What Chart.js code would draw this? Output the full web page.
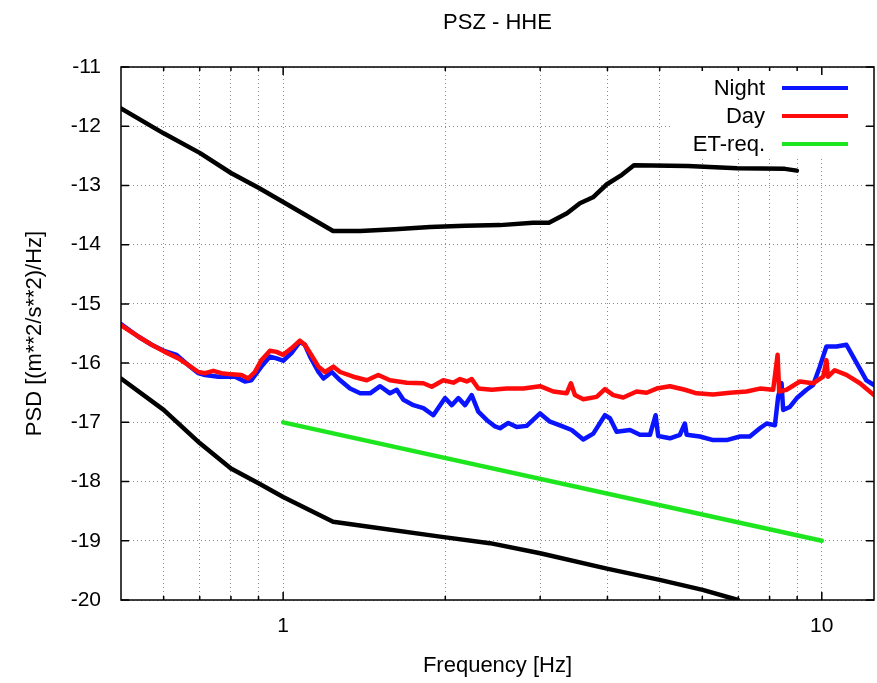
<!DOCTYPE html>
<html>
<head>
<meta charset="utf-8">
<title>PSZ - HHE</title>
<script src="https://cdn.jsdelivr.net/npm/chart.js@4.4.1/dist/chart.umd.min.js"></script>
<style>
  html, body { margin: 0; padding: 0; background: #fff; }
  #wrap { width: 877px; height: 683px; }
</style>
</head>
<body>
<div id="wrap"><canvas id="psd"></canvas></div>
<script>
const FONT = "'Liberation Sans', Arial, sans-serif";

// frequencies where the grid lines sit, and the ones that get a label
const xGridTicks = [0.6, 0.7, 0.8, 0.9, 1, 2, 3, 4, 5, 6, 7, 8, 9, 10];
const xTickLabels = [1, 10];

// Night (blue)
const nightFreq = [0.5, 0.538, 0.570, 0.603, 0.634, 0.666, 0.696, 0.716, 0.758, 0.814,
  0.849, 0.873, 0.911, 0.945, 0.972, 1.0, 1.036, 1.074, 1.097, 1.122,
  1.163, 1.188, 1.231, 1.276, 1.331, 1.390, 1.450, 1.514, 1.579, 1.625,
  1.672, 1.745, 1.821, 1.900, 1.998, 2.056, 2.115, 2.176, 2.239, 2.303,
  2.387, 2.474, 2.527, 2.618, 2.714, 2.832, 2.999, 3.129, 3.266, 3.433,
  3.607, 3.765, 3.957, 4.043, 4.160, 4.404, 4.596, 4.797, 4.915, 4.969,
  5.224, 5.452, 5.570, 5.611, 5.939, 6.285, 6.656, 7.046, 7.352, 7.674,
  7.899, 8.183, 8.298, 8.419, 8.477, 8.722, 8.99, 9.367, 9.636, 9.915,
  10.20, 10.65, 11.11, 11.43, 12.10, 12.5];
const nightPsd = [-15.34, -15.55, -15.69, -15.80, -15.86, -16.03, -16.17, -16.20, -16.23, -16.23,
  -16.31, -16.29, -16.06, -15.89, -15.92, -15.96, -15.83, -15.64, -15.69, -15.89,
  -16.15, -16.26, -16.15, -16.29, -16.43, -16.51, -16.51, -16.39, -16.51, -16.45,
  -16.62, -16.71, -16.76, -16.88, -16.59, -16.71, -16.59, -16.71, -16.54, -16.82,
  -16.96, -17.07, -17.10, -17.01, -17.08, -17.06, -16.85, -16.99, -17.05, -17.13,
  -17.29, -17.19, -16.88, -16.93, -17.16, -17.13, -17.21, -17.21, -16.88, -17.23,
  -17.27, -17.21, -17.02, -17.21, -17.24, -17.30, -17.30, -17.24, -17.24, -17.10,
  -17.02, -17.05, -16.57, -16.34, -16.79, -16.74, -16.59, -16.45, -16.37, -16.06,
  -15.72, -15.72, -15.69, -15.89, -16.29, -16.37];

// Day (red)
const dayFreq = [0.5, 0.538, 0.570, 0.603, 0.639, 0.666, 0.696, 0.716, 0.742, 0.768,
  0.802, 0.837, 0.861, 0.886, 0.911, 0.945, 0.972, 1.0, 1.036, 1.074,
  1.097, 1.122, 1.163, 1.196, 1.240, 1.276, 1.350, 1.430, 1.502, 1.579,
  1.696, 1.821, 1.887, 1.983, 2.070, 2.130, 2.192, 2.239, 2.303, 2.439,
  2.600, 2.792, 2.999, 3.173, 3.360, 3.422, 3.481, 3.607, 3.819, 3.957,
  4.100, 4.279, 4.531, 4.729, 4.935, 5.224, 5.570, 5.855, 6.285, 6.751,
  7.251, 7.674, 8.124, 8.278, 8.335, 8.601, 9.104, 9.636, 10.06, 10.20,
  10.27, 10.57, 11.11, 11.77, 12.5];
const dayPsd = [-15.36, -15.55, -15.69, -15.81, -15.92, -16.03, -16.15, -16.17, -16.13, -16.17,
  -16.19, -16.20, -16.26, -16.15, -15.95, -15.79, -15.81, -15.86, -15.75, -15.62,
  -15.69, -15.83, -16.06, -16.15, -16.06, -16.15, -16.23, -16.29, -16.20, -16.29,
  -16.33, -16.34, -16.40, -16.29, -16.33, -16.27, -16.31, -16.27, -16.43, -16.45,
  -16.43, -16.43, -16.39, -16.48, -16.51, -16.34, -16.54, -16.61, -16.57, -16.44,
  -16.54, -16.58, -16.48, -16.50, -16.43, -16.39, -16.45, -16.51, -16.53, -16.50,
  -16.48, -16.43, -16.45, -15.86, -16.48, -16.45, -16.31, -16.34, -16.23, -15.95,
  -16.23, -16.12, -16.20, -16.34, -16.54];

// ET requirement (green)
const etFreq = [1, 10];
const etPsd = [-17, -19];

// high noise model (upper black)
const highFreq = [0.5, 0.6, 0.7, 0.8, 0.9, 1.0, 1.238, 1.39, 1.613, 1.874, 2.176, 2.527,
  2.91, 3.115, 3.365, 3.556, 3.76, 3.99, 4.255, 4.48, 5.64, 6.96, 8.54, 8.99];
const highPsd = [-11.70, -12.12, -12.45, -12.79, -13.04, -13.28, -13.77, -13.77, -13.74, -13.70, -13.68, -13.67,
  -13.63, -13.63, -13.47, -13.30, -13.20, -12.98, -12.82, -12.66, -12.67, -12.71, -12.72, -12.75];

// low noise model (lower black)
const lowFreq = [0.5, 0.6, 0.7, 0.8, 0.9, 1.0, 1.238, 1.432, 1.956, 2.42, 3.0, 3.99, 5.0, 6.01, 6.99];
const lowPsd = [-16.26, -16.79, -17.35, -17.78, -18.03, -18.26, -18.68, -18.76, -18.93, -19.04,
  -19.21, -19.47, -19.66, -19.83, -20.00];

const toPoints = (xs, ys) => xs.map((x, i) => ({ x: x, y: ys[i] }));

// white key box, then key text and samples on top
const keyBox = {
  id: 'keyBox',
  beforeDatasetsDraw(chart) {
    const { ctx, chartArea } = chart;
    ctx.save();
    ctx.fillStyle = '#fff';
    ctx.fillRect(chartArea.right - 204, chartArea.top + 1, 192, 88);
    ctx.restore();
  },
  afterDatasetsDraw(chart) {
    const { ctx, chartArea } = chart;
    const items = chart.data.datasets.filter(d => d.label);
    ctx.save();
    ctx.font = '22px ' + FONT;
    ctx.textAlign = 'right';
    ctx.textBaseline = 'middle';
    items.forEach((d, i) => {
      const y = chartArea.top + 21 + i * 28;
      ctx.fillStyle = '#000';
      ctx.fillText(d.label, chartArea.right - 109, y + 1);
      ctx.strokeStyle = d.borderColor;
      ctx.lineWidth = 4;
      ctx.beginPath();
      ctx.moveTo(chartArea.right - 92, y);
      ctx.lineTo(chartArea.right - 26, y);
      ctx.stroke();
    });
    ctx.restore();
  }
};

// gnuplot style frame with inward tick marks
const frame = {
  id: 'frame',
  afterDraw(chart) {
    const { ctx, chartArea: a, scales } = chart;
    ctx.save();
    ctx.strokeStyle = '#000';
    ctx.lineWidth = 1.5;
    ctx.strokeRect(a.left, a.top, a.right - a.left, a.bottom - a.top);
    ctx.beginPath();
    scales.x.ticks.forEach(t => {
      const px = scales.x.getPixelForValue(t.value);
      const len = xTickLabels.includes(t.value) ? 8 : 4;
      ctx.moveTo(px, a.bottom); ctx.lineTo(px, a.bottom - len);
      ctx.moveTo(px, a.top); ctx.lineTo(px, a.top + len);
    });
    scales.y.ticks.forEach(t => {
      const py = scales.y.getPixelForValue(t.value);
      ctx.moveTo(a.left, py); ctx.lineTo(a.left + 8, py);
      ctx.moveTo(a.right, py); ctx.lineTo(a.right - 8, py);
    });
    ctx.stroke();
    ctx.restore();
  }
};

const line = (label, xs, ys, color, order) => ({
  label: label,
  data: toPoints(xs, ys),
  showLine: true,
  borderColor: color,
  backgroundColor: color,
  borderWidth: 4.5,
  borderJoinStyle: 'round',
  borderCapStyle: 'round',
  pointRadius: 0,
  tension: 0,
  order: order
});

new Chart(document.getElementById('psd'), {
  type: 'scatter',
  plugins: [keyBox, frame],
  data: {
    datasets: [
      line('Night', nightFreq, nightPsd, '#0a14ff', 2),
      line('Day', dayFreq, dayPsd, '#ff0a0a', 1),
      line('ET-req.', etFreq, etPsd, '#1ee61e', 3),
      line('', highFreq, highPsd, '#000000', 4),
      line('', lowFreq, lowPsd, '#000000', 5)
    ]
  },
  options: {
    responsive: true,
    maintainAspectRatio: false,
    animation: false,
    layout: { padding: { left: 0, right: 3, top: 0, bottom: 0 } },
    plugins: {
      legend: { display: false },
      tooltip: { enabled: false },
      title: {
        display: true,
        fullSize: false,
        text: 'PSZ - HHE',
        color: '#000',
        font: { family: FONT, size: 22, weight: 'normal' },
        padding: { top: 10, bottom: 30.6 }
      }
    },
    scales: {
      x: {
        type: 'logarithmic',
        min: 0.5,
        max: 12.5,
        afterBuildTicks: scale => { scale.ticks = xGridTicks.map(v => ({ value: v })); },
        afterFit: scale => { scale.height = 83; },
        grid: { color: '#8c8c8c', lineWidth: 1, drawTicks: false },
        border: { display: false, dash: [1, 3] },
        ticks: {
          autoSkip: false,
          maxRotation: 0,
          padding: 14,
          color: '#000',
          font: { family: FONT, size: 21 },
          callback: v => xTickLabels.includes(v) ? String(v) : ''
        },
        title: {
          display: true,
          text: 'Frequency [Hz]',
          color: '#000',
          font: { family: FONT, size: 22 },
          padding: { top: 0, bottom: 4 }
        }
      },
      y: {
        min: -20,
        max: -11,
        afterFit: scale => { scale.width = 121; },
        grid: { color: '#8c8c8c', lineWidth: 1, drawTicks: false },
        border: { display: false, dash: [1, 3] },
        ticks: {
          stepSize: 1,
          padding: 20,
          color: '#000',
          font: { family: FONT, size: 21 }
        },
        title: {
          display: true,
          text: 'PSD [(m**2/s**2)/Hz]',
          color: '#000',
          font: { family: FONT, size: 22 },
          padding: { top: 22, bottom: 0 }
        }
      }
    }
  }
});
</script>
</body>
</html>
